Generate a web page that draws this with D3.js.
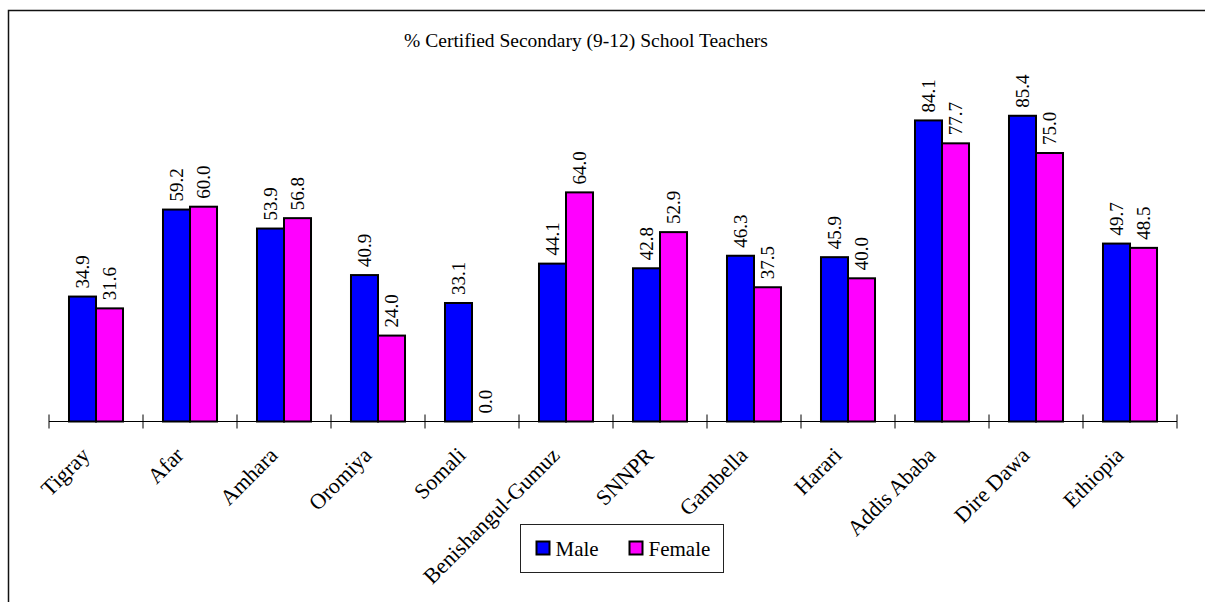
<!DOCTYPE html>
<html>
<head>
<meta charset="utf-8">
<script src="https://cdn.jsdelivr.net/npm/d3@7"></script>
<style>
  body { margin: 0; background: #fff; }
  svg text { font-family: "Liberation Serif", "DejaVu Serif", serif; }
</style>
</head>
<body>
<div id="chart"></div>
<script>
// data
var regions = ["Tigray", "Afar", "Amhara", "Oromiya", "Somali", "Benishangul-Gumuz",
  "SNNPR", "Gambella", "Harari", "Addis Ababa", "Dire Dawa", "Ethiopia"]
var male = [34.9, 59.2, 53.9, 40.9, 33.1, 44.1, 42.8, 46.3, 45.9, 84.1, 85.4, 49.7]
var female = [31.6, 60.0, 56.8, 24.0, 0.0, 64.0, 52.9, 37.5, 40.0, 77.7, 75.0, 48.5]
var seriesNames = ["Male", "Female"]
var colors = ["#0000FF", "#FF00FF"]

var W = 1205, H = 602
var serif = "Liberation Serif"

var svg = d3.select("#chart").append("svg")
  .attr("width", W)
  .attr("height", H)

// outer frame (runs off the right and bottom)
svg.append("rect")
  .attr("x", 8.5).attr("y", 10.5)
  .attr("width", 1400).attr("height", 800)
  .attr("fill", "none")
  .attr("stroke", "#111")
  .attr("stroke-width", 1.5)

svg.append("text")
  .attr("x", 586).attr("y", 47)
  .attr("text-anchor", "middle")
  .attr("font-family", serif)
  .style("font-size", "19.5px")
  .text("% Certified Secondary (9-12) School Teachers")

var axisY = 421.5

var x = d3.scaleBand()
  .domain(regions)
  .range([49, 1177])
  .paddingInner(0)

var xs = d3.scaleBand()
  .domain(seriesNames)
  .range([0, x.bandwidth()])
  .paddingInner(0)
  .paddingOuter(0.74)

var y = d3.scaleLinear()
  .domain([0, 100])
  .range([axisY, axisY - 358])

var rows = regions.map(function (r, i) {
  return { region: r, values: [male[i], female[i]] }
})

var groups = svg.selectAll("g.grp")
  .data(rows)
  .enter()
  .append("g")
  .attr("class", "grp")
  .attr("transform", function (d) { return "translate(" + x(d.region) + ",0)" })

groups.selectAll("rect")
  .data(function (d) { return d.values.map(function (v, j) { return { s: seriesNames[j], v: v, j: j } }) })
  .enter()
  .filter(function (d) { return d.v > 0 })
  .append("rect")
  .attr("x", function (d) { return xs(d.s) })
  .attr("y", function (d) { return y(d.v) })
  .attr("width", xs.bandwidth())
  .attr("height", function (d) { return axisY - y(d.v) })
  .attr("fill", function (d) { return colors[d.j] })
  .attr("stroke", "#000")
  .attr("stroke-width", 2)

groups.selectAll("text.val")
  .data(function (d) { return d.values.map(function (v, j) { return { s: seriesNames[j], v: v } }) })
  .enter()
  .append("text")
  .attr("class", "val")
  .attr("transform", function (d) {
    return "translate(" + (xs(d.s) + xs.bandwidth() / 2) + "," + (y(d.v) - 8) + ") rotate(-90)"
  })
  .attr("dy", "0.35em")
  .attr("font-family", serif)
  .style("font-size", "19px")
  .text(function (d) { return d.v.toFixed(1) })

// axis line with ticks on category boundaries
var axis = svg.append("g")
  .attr("transform", "translate(0," + axisY + ")")
  .call(d3.axisBottom(x).tickSize(0).tickFormat(""))
axis.select(".domain").attr("stroke", "#000").attr("d", "M49,0H1177")

var bounds = regions.map(function (r) { return x(r) }).concat([x.range()[1]])
svg.selectAll("line.tick")
  .data(bounds)
  .enter()
  .append("line")
  .attr("x1", function (d) { return d }).attr("x2", function (d) { return d })
  .attr("y1", axisY - 7).attr("y2", axisY + 7)
  .attr("stroke", "#000")

svg.selectAll("text.cat")
  .data(regions)
  .enter()
  .append("text")
  .attr("class", "cat")
  .attr("text-anchor", "end")
  .attr("transform", function (d) {
    return "translate(" + (x(d) + x.bandwidth() / 2 - 5) + "," + (axisY + 35) + ") rotate(-45)"
  })
  .attr("font-family", serif)
  .style("font-size", "22px")
  .text(function (d) { return d })

// legend
var legend = svg.append("g").attr("transform", "translate(520.5,524.5)")
legend.append("rect")
  .attr("width", 203).attr("height", 48)
  .attr("fill", "#fff")
  .attr("stroke", "#222")

var legX = [16, 109]
var item = legend.selectAll("g.item")
  .data(seriesNames)
  .enter()
  .append("g")
  .attr("transform", function (d, i) { return "translate(" + legX[i] + ",17)" })
item.append("rect")
  .attr("width", 13).attr("height", 13)
  .attr("fill", function (d, i) { return colors[i] })
  .attr("stroke", "#000")
  .attr("stroke-width", 2)
item.append("text")
  .attr("x", 19).attr("y", 14)
  .attr("font-family", serif)
  .style("font-size", "21px")
  .text(function (d) { return d })
</script>
</body>
</html>
